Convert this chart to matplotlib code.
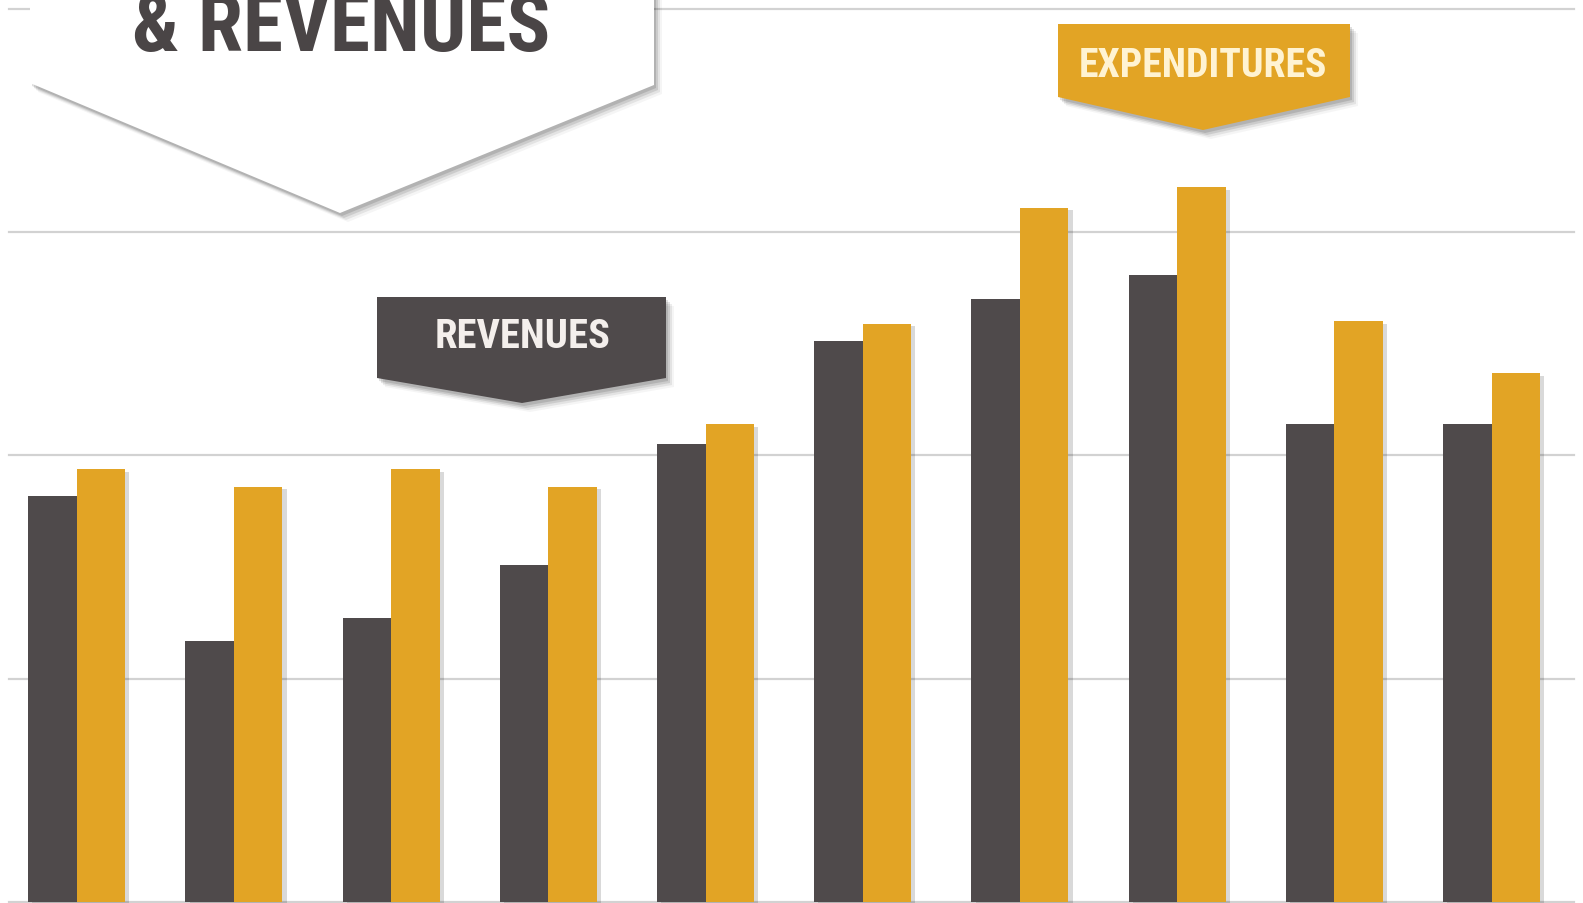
import matplotlib
matplotlib.use('Agg')
import matplotlib.pyplot as plt
from matplotlib.patches import Polygon
import matplotlib.patheffects as pe
import matplotlib.font_manager as fm
import numpy as np

# ---- data (gridline spacing = 1 unit) ----
groups = list(range(10))
revenues = [1.82, 1.17, 1.27, 1.51, 2.05, 2.51, 2.70, 2.81, 2.14, 2.14]
expenditures = [1.94, 1.86, 1.94, 1.86, 2.14, 2.59, 3.11, 3.20, 2.60, 2.37]
grid_levels = [0, 1, 2, 3, 4]
title_text = "& REVENUES"
rev_label = "REVENUES"
exp_label = "EXPENDITURES"

DARK = '#4f4a4b'
GOLD = '#e2a425'
W, H = 1583, 904


def pick_font():
    fl = fm.fontManager.ttflist
    for name in ['Liberation Sans Narrow', 'Roboto Condensed', 'DejaVu Sans Condensed',
                 'Open Sans Condensed', 'Noto Sans Condensed']:
        if any(f.name == name for f in fl):
            return name, 'normal', True
    if any(f.name == 'DejaVu Sans' and f.stretch == 'condensed' for f in fl):
        return 'DejaVu Sans', 'condensed', True
    if any(f.name == 'Roboto' for f in fl):
        return 'Roboto', 'normal', False
    return 'DejaVu Sans', 'normal', False


FONT_NAME, FONT_STRETCH, NARROW = pick_font()
FONT = [FONT_NAME, 'DejaVu Sans']

fig = plt.figure(figsize=(W / 100, H / 100), dpi=100)
fig.patch.set_facecolor('white')
ax = fig.add_axes([0, 0, 1, 1])
ax.set_xlim(-0.488, 9.582)
ax.set_ylim(-0.005, 4.044)
ax.axis('off')

for g in grid_levels:
    ax.axhline(g, xmin=0.006, xmax=0.994, color='#d2d2d2', lw=1.6, zorder=0)

x = np.arange(len(groups))
w = 0.309
shadow = [pe.SimplePatchShadow(offset=(3, -2), shadow_rgbFace='k', alpha=0.15), pe.Normal()]
ax.bar(x - w / 2, revenues, w, color=DARK, zorder=2, path_effects=shadow)
ax.bar(x + w / 2, expenditures, w, color=GOLD, zorder=2, path_effects=shadow)


def pix(pts):
    return [(px / W, 1 - py / H) for px, py in pts]


def banner(pts, face, z):
    for dx, dy, a in [(8, 9, 0.04), (6, 7, 0.07), (4, 5, 0.10), (2, 3, 0.12)]:
        sh = [(px + dx, py + dy) for px, py in pts]
        fig.patches.append(Polygon(pix(sh), closed=True, transform=fig.transFigure,
                                   facecolor='k', edgecolor='none', alpha=a, zorder=z))
    fig.patches.append(Polygon(pix(pts), closed=True, transform=fig.transFigure,
                               facecolor=face, edgecolor='none', zorder=z + 0.1))


renderer = fig.canvas.get_renderer()


def fit_text(xp, yp, s, target_w, color, va):
    t = fig.text(xp / W, 1 - yp / H, s, ha='center', va=va, fontsize=30,
                 fontweight='bold', color=color, family=FONT, fontstretch=FONT_STRETCH,
                 zorder=10)
    bb = t.get_window_extent(renderer)
    t.set_fontsize(30 * target_w / bb.width)
    return t


k = 1.0 if NARROW else 1.12

# title banner (white, cut at the top edge)
banner([(30, -20), (654, -20), (654, 86), (340, 214), (30, 84)], 'white', 5)
fit_text(341, 51, title_text, 418 * k, '#4a4546', 'baseline')

# revenues label
banner([(377, 298), (666, 298), (666, 379), (522, 404), (377, 379)], DARK, 5)
fit_text(523, 337, rev_label, 175 * k, '#f4efec', 'center')

# expenditures label
banner([(1058, 25), (1350, 25), (1350, 98), (1203, 131), (1058, 98)], GOLD, 5)
fit_text(1203, 66, exp_label, 248 * k, '#fff3d2', 'center')

fig.savefig('out.png', dpi=100, facecolor='white')
